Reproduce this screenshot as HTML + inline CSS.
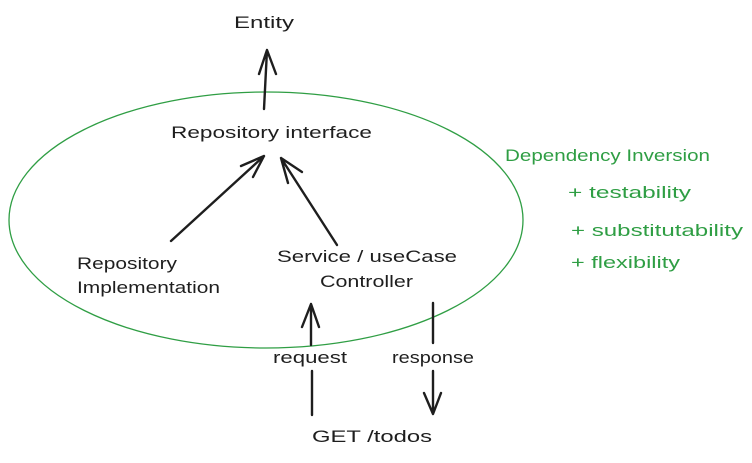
<!DOCTYPE html>
<html><head><style>
body{margin:0;background:#fff;}
svg text{font-family:"Liberation Sans",sans-serif;font-size:17px;fill:#1e1e1e;}
svg text.g{fill:#2f9e44;}
</style></head><body>
<svg width="752" height="458" viewBox="0 0 752 458" xmlns="http://www.w3.org/2000/svg">
<ellipse cx="266" cy="220" rx="257" ry="128" fill="none" stroke="#2f9e44" stroke-width="1.3"/>
<g stroke="#1e1e1e" stroke-width="2.4" fill="none" stroke-linecap="round" stroke-linejoin="round">
<path d="M264 109 L267 50 M259 74 L267 50 L276 74"/>
<path d="M171 241 L264 156 M241 166 L264 156 L253 177"/>
<path d="M337 245 L281 158 M288 183 L281 158 L302 172"/>
<path d="M311 345 L311 304 M302 327 L311 304 L319 327"/>
<path d="M312 371 L312 415"/>
<path d="M433 303 L433 343"/>
<path d="M433 371 L433 414 M424 393 L433 414 L441 393"/>
</g>
<text x="234" y="28" textLength="60" lengthAdjust="spacingAndGlyphs">Entity</text>
<text x="171" y="138" textLength="201" lengthAdjust="spacingAndGlyphs">Repository interface</text>
<text x="77" y="269" textLength="100" lengthAdjust="spacingAndGlyphs">Repository</text>
<text x="77" y="293" textLength="143" lengthAdjust="spacingAndGlyphs">Implementation</text>
<text x="277" y="262" textLength="180" lengthAdjust="spacingAndGlyphs">Service / useCase</text>
<text x="320" y="287" textLength="93" lengthAdjust="spacingAndGlyphs">Controller</text>
<text x="273" y="363" textLength="74" lengthAdjust="spacingAndGlyphs">request</text>
<text x="392" y="363" textLength="82" lengthAdjust="spacingAndGlyphs">response</text>
<text x="312" y="442" textLength="120" lengthAdjust="spacingAndGlyphs">GET /todos</text>
<text class="g" x="505" y="161" textLength="205" lengthAdjust="spacingAndGlyphs">Dependency Inversion</text>
<text class="g" x="568" y="198" textLength="123" lengthAdjust="spacingAndGlyphs">+ testability</text>
<text class="g" x="571" y="236" textLength="172" lengthAdjust="spacingAndGlyphs">+ substitutability</text>
<text class="g" x="571" y="268" textLength="109" lengthAdjust="spacingAndGlyphs">+ flexibility</text>
</svg>
</body></html>
